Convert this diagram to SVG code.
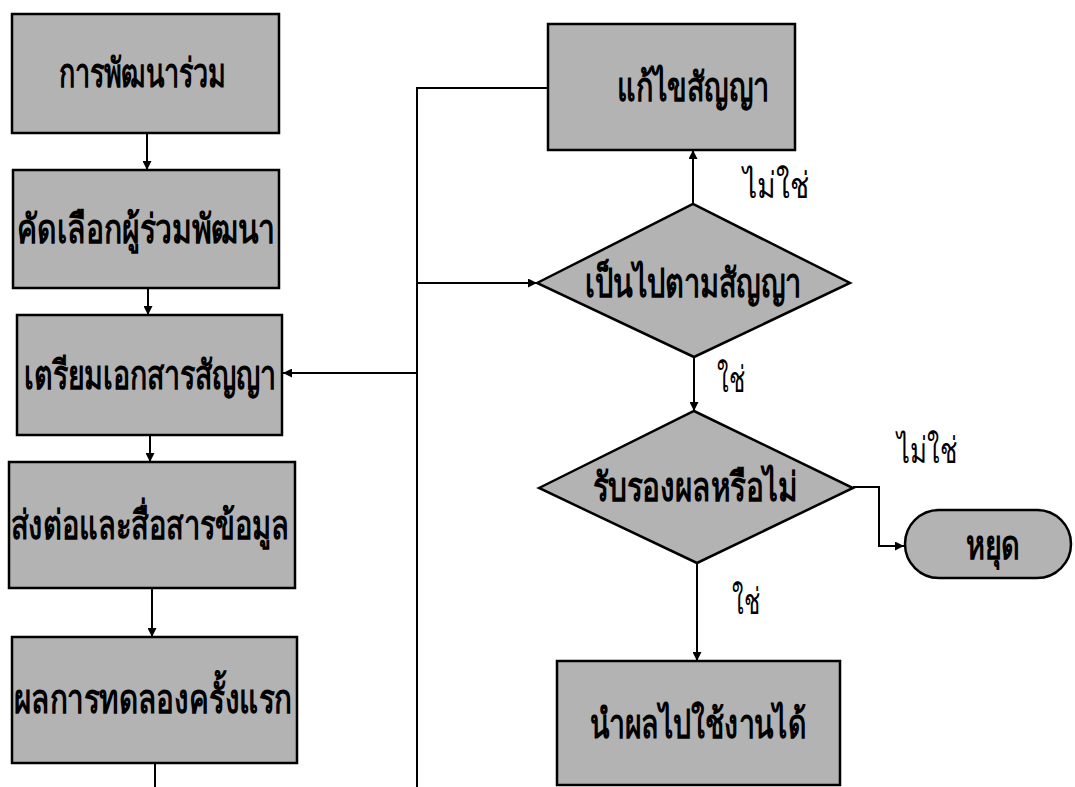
<svg xmlns="http://www.w3.org/2000/svg" width="1075" height="787" viewBox="0 0 1075 787">
<style>
.n{fill:#b3b3b3;stroke:#000;stroke-width:2.5}
.t{font-family:"Liberation Sans","Noto Sans",sans-serif;font-weight:bold;font-size:40px;fill:#000;text-anchor:middle}
.l{font-family:"Liberation Sans","Noto Sans",sans-serif;font-size:36px;fill:#000;text-anchor:middle}
.c{fill:none;stroke:#000;stroke-width:2}
</style>
<defs>
<marker id="a" viewBox="0 0 10 10" refX="10" refY="5" markerWidth="10" markerHeight="9" markerUnits="userSpaceOnUse" orient="auto"><path d="M0,0L10,5L0,10z" fill="#000"/></marker>
</defs>
<g id="connectors">
<path class="c" d="M147,133V170" marker-end="url(#a)"/>
<path class="c" d="M148,288V315" marker-end="url(#a)"/>
<path class="c" d="M150,435V462" marker-end="url(#a)"/>
<path class="c" d="M152,588V637" marker-end="url(#a)"/>
<path class="c" d="M155,763V787"/>
<path class="c" d="M548,88H417V787"/>
<path class="c" d="M417,283H537" marker-end="url(#a)"/>
<path class="c" d="M417,373H283" marker-end="url(#a)"/>
<path class="c" d="M693,204V150" marker-end="url(#a)"/>
<path class="c" d="M694,357V411" marker-end="url(#a)"/>
<path class="c" d="M853,487H879V546H904" marker-end="url(#a)"/>
<path class="c" d="M697,563V661" marker-end="url(#a)"/>
<text class="l" x="776" y="198" textLength="66" lengthAdjust="spacingAndGlyphs">ไม่ใช่</text>
<text class="l" x="731" y="392" textLength="28" lengthAdjust="spacingAndGlyphs">ใช่</text>
<text class="l" x="927" y="463" textLength="60" lengthAdjust="spacingAndGlyphs">ไม่ใช่</text>
<text class="l" x="746" y="614" textLength="28" lengthAdjust="spacingAndGlyphs">ใช่</text>
</g>
<g id="n1"><rect class="n" x="12" y="14" width="267" height="119"/><text class="t" x="142" y="87" textLength="167" lengthAdjust="spacingAndGlyphs">การพัฒนาร่วม</text></g>
<g id="n2"><rect class="n" x="13" y="170" width="266" height="118"/><text class="t" x="146" y="243" textLength="258" lengthAdjust="spacingAndGlyphs">คัดเลือกผู้ร่วมพัฒนา</text></g>
<g id="n3"><rect class="n" x="17" y="315" width="265" height="120"/><text class="t" x="150" y="389" textLength="252" lengthAdjust="spacingAndGlyphs">เตรียมเอกสารสัญญา</text></g>
<g id="n4"><rect class="n" x="9" y="462" width="286" height="126"/><text class="t" x="150" y="539" textLength="278" lengthAdjust="spacingAndGlyphs">ส่งต่อและสื่อสารข้อมูล</text></g>
<g id="n5"><rect class="n" x="12" y="637" width="285" height="126"/><text class="t" x="153" y="713" textLength="278" lengthAdjust="spacingAndGlyphs">ผลการทดลองครั้งแรก</text></g>
<g id="n6"><rect class="n" x="548" y="24" width="247" height="126"/><text class="t" x="693" y="101" textLength="152" lengthAdjust="spacingAndGlyphs">แก้ไขสัญญา</text></g>
<g id="n7"><polygon class="n" points="537,283 693,204 850,283 694,357"/><text class="t" x="693" y="297" textLength="216" lengthAdjust="spacingAndGlyphs">เป็นไปตามสัญญา</text></g>
<g id="n8"><polygon class="n" points="539,488 694,411 853,488 697,563"/><text class="t" x="695" y="501" textLength="205" lengthAdjust="spacingAndGlyphs">รับรองผลหรือไม่</text></g>
<g id="n9"><rect class="n" x="557" y="661" width="283" height="124"/><text class="t" x="698" y="738" textLength="216" lengthAdjust="spacingAndGlyphs">นำผลไปใช้งานได้</text></g>
<g id="n10"><rect class="n" x="905" y="510" width="166" height="68" rx="34"/><text class="t" x="993" y="559" textLength="54" lengthAdjust="spacingAndGlyphs">หยุด</text></g>
</svg>
